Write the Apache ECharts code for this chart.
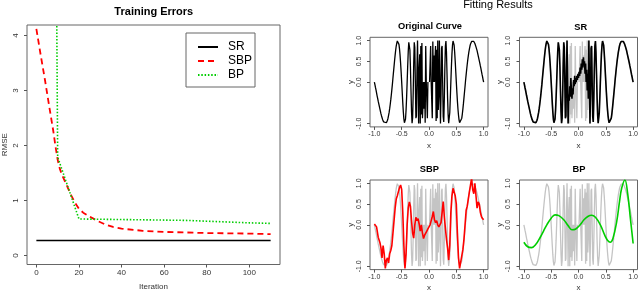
<!DOCTYPE html>
<html><head><meta charset="utf-8">
<script src="https://cdn.jsdelivr.net/npm/echarts@6/dist/echarts.min.js"></script>
<style>html,body{margin:0;padding:0;background:#fff}#c{width:640px;height:292px}</style>
</head><body><div id="c"></div>
<script>
// ---------- Training errors (left panel) ----------
const iterSR = [0, 10, 20, 30, 40, 50, 60, 70, 80, 90, 100, 110];
const rmseSR = [0.275, 0.275, 0.275, 0.275, 0.275, 0.275, 0.275, 0.275, 0.275, 0.275, 0.275, 0.275];
const iterSBP = [0, 2, 4, 6, 8, 9, 10, 11, 12, 14, 16, 18, 20, 22, 25, 28, 32, 36, 40, 50, 60, 70, 80, 90, 100, 110];
const rmseSBP = [4.12, 3.65, 3.2, 2.72, 2.25, 1.98, 1.74, 1.58, 1.47, 1.3, 1.12, 0.97, 0.85, 0.78, 0.71, 0.645, 0.57, 0.52, 0.49, 0.45, 0.43, 0.42, 0.41, 0.405, 0.4, 0.39];
const iterBP = [0, 10, 20, 30, 40, 50, 60, 70, 80, 90, 100, 110];
const rmseBP = [60, 1.79, 0.665, 0.66, 0.655, 0.65, 0.645, 0.64, 0.625, 0.61, 0.595, 0.585];
const iterTicks = [0, 20, 40, 60, 80, 100];
const rmseTicks = [0, 1, 2, 3, 4];

// ---------- Fitting results (right panels) ----------
const curveX = [-1,-0.99,-0.98,-0.97,-0.96,-0.95,-0.94,-0.93,-0.92,-0.91,-0.9,-0.89,-0.88,-0.87,-0.86,-0.85,-0.84,-0.83,-0.82,-0.81,-0.8,-0.79,-0.78,-0.77,-0.76,-0.75,-0.74,-0.73,-0.72,-0.71,-0.7,-0.69,-0.68,-0.67,-0.66,-0.65,-0.64,-0.63,-0.62,-0.61,-0.6,-0.59,-0.58,-0.57,-0.56,-0.55,-0.54,-0.53,-0.52,-0.51,-0.5,-0.49,-0.48,-0.47,-0.46,-0.45,-0.44,-0.43,-0.42,-0.41,-0.4,-0.39,-0.38,-0.37,-0.36,-0.35,-0.34,-0.33,-0.32,-0.31,-0.3,-0.29,-0.28,-0.27,-0.26,-0.25,-0.24,-0.23,-0.22,-0.21,-0.2,-0.19,-0.18,-0.17,-0.16,-0.15,-0.14,-0.13,-0.12,-0.11,-0.1,-0.09,-0.08,-0.07,-0.06,-0.05,-0.04,-0.03,-0.02,-0.01,0,0.01,0.02,0.03,0.04,0.05,0.06,0.07,0.08,0.09,0.1,0.11,0.12,0.13,0.14,0.15,0.16,0.17,0.18,0.19,0.2,0.21,0.22,0.23,0.24,0.25,0.26,0.27,0.28,0.29,0.3,0.31,0.32,0.33,0.34,0.35,0.36,0.37,0.38,0.39,0.4,0.41,0.42,0.43,0.44,0.45,0.46,0.47,0.48,0.49,0.5,0.51,0.52,0.53,0.54,0.55,0.56,0.57,0.58,0.59,0.6,0.61,0.62,0.63,0.64,0.65,0.66,0.67,0.68,0.69,0.7,0.71,0.72,0.73,0.74,0.75,0.76,0.77,0.78,0.79,0.8,0.81,0.82,0.83,0.84,0.85,0.86,0.87,0.88,0.89,0.9,0.91,0.92,0.93,0.94,0.95,0.96,0.97,0.98,0.99,1];
const originalY = [0,-0.06,-0.13,-0.19,-0.26,-0.33,-0.39,-0.46,-0.52,-0.58,-0.64,-0.7,-0.76,-0.81,-0.85,-0.9,-0.93,-0.96,-0.98,-0.99,-1,-0.99,-0.98,-0.95,-0.92,-0.87,-0.8,-0.73,-0.64,-0.54,-0.43,-0.31,-0.18,-0.05,0.1,0.24,0.38,0.52,0.65,0.77,0.87,0.94,0.99,1,0.98,0.91,0.8,0.65,0.46,0.24,0,-0.25,-0.5,-0.72,-0.89,-0.98,-0.99,-0.89,-0.68,-0.37,0,0.39,0.74,0.96,0.99,0.78,0.37,-0.19,-0.71,-0.99,-0.87,-0.32,0.43,0.96,0.83,0,-0.87,-0.82,0.28,1,0,-1,0.34,0.67,-1,0.87,-0.78,0.94,-0.87,-0.54,0,-0.64,0,-0.98,0.87,0,0,-0.87,0,0,null,0,0,0.87,0,0,-0.87,0.98,0,0.64,0,0.54,0.87,-0.94,0.78,-0.87,1,-0.67,-0.34,1,0,-1,-0.28,0.82,0.87,0,-0.83,-0.96,-0.43,0.32,0.87,0.99,0.71,0.19,-0.37,-0.78,-0.99,-0.96,-0.74,-0.39,0,0.37,0.68,0.89,0.99,0.98,0.89,0.72,0.5,0.25,0,-0.24,-0.46,-0.65,-0.8,-0.91,-0.98,-1,-0.99,-0.94,-0.87,-0.77,-0.65,-0.52,-0.38,-0.24,-0.1,0.05,0.18,0.31,0.43,0.54,0.64,0.73,0.8,0.87,0.92,0.95,0.98,0.99,1,0.99,0.98,0.96,0.93,0.9,0.85,0.81,0.76,0.7,0.64,0.58,0.52,0.46,0.39,0.33,0.26,0.19,0.13,0.06,0];
const srY = [0,-0.06,-0.13,-0.19,-0.26,-0.33,-0.39,-0.46,-0.52,-0.58,-0.64,-0.7,-0.76,-0.81,-0.85,-0.9,-0.93,-0.96,-0.98,-0.99,-1,-0.99,-0.98,-0.95,-0.92,-0.87,-0.8,-0.73,-0.64,-0.54,-0.43,-0.31,-0.18,-0.05,0.1,0.24,0.38,0.52,0.65,0.77,0.87,0.94,0.99,1,0.98,0.91,0.8,0.65,0.46,0.24,0,-0.25,-0.5,-0.72,-0.89,-0.98,-0.99,-0.89,-0.68,-0.37,0,0.39,0.74,0.96,0.99,0.78,0.37,-0.19,-0.71,-0.99,-0.87,-0.32,0.43,0.96,0.83,0,-0.87,-0.82,0.28,1,0,-1,-0.3,-0.45,-0.1,-0.35,0.1,-0.2,-0.4,-0.15,-0.3,0.05,-0.1,0.15,-0.05,0.1,0,0.15,0.05,0.2,0.1,0.25,0.15,0.35,0.2,0.45,0.3,0.55,0.35,0.6,0.4,0.5,0.2,0.45,0,0.3,-0.2,0.2,-0.4,1,0,-1,-0.28,0.82,0.87,0,-0.83,-0.96,-0.43,0.32,0.87,0.99,0.71,0.19,-0.37,-0.78,-0.99,-0.96,-0.74,-0.39,0,0.37,0.68,0.89,0.99,0.98,0.89,0.72,0.5,0.25,0,-0.24,-0.46,-0.65,-0.8,-0.91,-0.98,-1,-0.99,-0.94,-0.87,-0.77,-0.65,-0.52,-0.38,-0.24,-0.1,0.05,0.18,0.31,0.43,0.54,0.64,0.73,0.8,0.87,0.92,0.95,0.98,0.99,1,0.99,0.98,0.96,0.93,0.9,0.85,0.81,0.76,0.7,0.64,0.58,0.52,0.46,0.39,0.33,0.26,0.19,0.13,0.06,0];
const sbpX = [-1,-0.96,-0.93,-0.9,-0.88,-0.86,-0.84,-0.82,-0.8,-0.78,-0.76,-0.74,-0.72,-0.7,-0.68,-0.66,-0.64,-0.62,-0.6,-0.58,-0.56,-0.54,-0.52,-0.5,-0.48,-0.46,-0.44,-0.42,-0.4,-0.38,-0.36,-0.34,-0.32,-0.3,-0.28,-0.26,-0.24,-0.22,-0.2,-0.18,-0.16,-0.14,-0.12,-0.1,-0.08,-0.06,-0.04,-0.02,0,0.02,0.04,0.06,0.08,0.1,0.12,0.14,0.16,0.18,0.2,0.22,0.24,0.26,0.28,0.3,0.32,0.34,0.36,0.38,0.4,0.42,0.44,0.46,0.48,0.5,0.52,0.54,0.56,0.58,0.6,0.62,0.64,0.66,0.68,0.7,0.72,0.74,0.76,0.78,0.8,0.82,0.84,0.86,0.88,0.9,0.92,0.94,0.96,0.98,1];
const sbpY = [0.02,-0.05,-0.3,-0.42,-0.55,-0.8,-0.5,-0.7,-1.05,-0.85,-0.8,-0.92,-0.7,-0.62,-0.5,-0.2,0.1,0.4,0.62,0.7,0.8,0.9,0.96,0.85,0.3,-0.5,-1.05,-0.7,0,0.4,0.55,0.45,0.1,-0.2,-0.32,0,0.18,0.1,0.15,0.02,-0.15,0,-0.2,-0.33,-0.25,-0.22,-0.15,-0.1,-0.05,0,0.1,0.2,0.32,0.12,0.05,0.1,0,-0.05,-0.08,0.05,0.3,0.56,0.2,-0.08,-0.35,-0.56,-0.85,-0.5,0.3,0.7,0.88,0.85,0.7,0.5,-0.2,-0.8,-1.05,-0.9,-0.75,-0.6,-0.35,0,0.35,0.45,0.48,0.8,0.96,1.12,0.85,0.75,1,0.7,0.4,0.55,0.5,0.3,0.2,0.15,0.12];
const bpX = [-1,-0.93,-0.86,-0.78,-0.7,-0.64,-0.58,-0.5,-0.43,-0.36,-0.27,-0.19,-0.12,-0.05,0.03,0.1,0.17,0.24,0.31,0.4,0.48,0.53,0.58,0.63,0.7,0.75,0.79,0.85,0.9,0.95,1];
const bpY = [-0.42,-0.53,-0.55,-0.47,-0.3,-0.15,0,0.16,0.24,0.22,0.12,-0.02,-0.12,-0.1,0,0.12,0.2,0.23,0.18,0,-0.25,-0.37,-0.42,-0.33,0.08,0.55,0.88,1.08,0.75,0.15,-0.45];
const xTicks = [-1, -0.5, 0, 0.5, 1];
const yTicks = [-1, 0, 0.5, 1];

const FONT = 'Liberation Sans, Arial, Helvetica, sans-serif';
const BOX = '#666', TICK = '#555', LBL = '#333';
const GRAY = '#c4c4c4', RED = '#ff0000', GREEN = '#00cd00';

const pairs = (xs, ys) => xs.map((x, i) => [x, ys[i]]);

const grids = [
  {left: 27, top: 25, width: 253, height: 239.5},
  {left: 370, top: 37.3, width: 118, height: 89.6},
  {left: 519.5, top: 37.3, width: 118, height: 89.6},
  {left: 370, top: 180, width: 118, height: 89.6},
  {left: 519.5, top: 180, width: 118, height: 89.6}
].map(g => Object.assign(g, {show: true, borderColor: BOX, borderWidth: 1, backgroundColor: 'transparent', containLabel: false, outerBoundsMode: 'none'}));

function xAx(gi, min, max, ticks, fmt, name, fs, nameGap) {
  return {type: 'value', gridIndex: gi, min: min, max: max, position: 'bottom',
    axisLine: {show: false, onZero: false}, splitLine: {show: false},
    axisTick: {show: true, inside: false, customValues: ticks, length: 3, lineStyle: {color: TICK}},
    axisLabel: {customValues: ticks, formatter: fmt, fontSize: fs, margin: 4, color: LBL, fontFamily: FONT},
    name: name, nameLocation: 'middle', nameGap: nameGap,
    nameTextStyle: {fontSize: 8, color: LBL, fontFamily: FONT}};
}
function yAx(gi, min, max, ticks, fmt, name, fs, margin, nameGap) {
  return {type: 'value', gridIndex: gi, min: min, max: max, position: 'left',
    axisLine: {show: false, onZero: false}, splitLine: {show: false},
    axisTick: {show: true, inside: false, customValues: ticks, length: 3, lineStyle: {color: TICK}},
    axisLabel: {customValues: ticks, formatter: fmt, rotate: 90, fontSize: fs, margin: margin, color: LBL, fontFamily: FONT},
    name: name, nameLocation: 'middle', nameGap: nameGap,
    nameTextStyle: {fontSize: 8, color: LBL, fontFamily: FONT}};
}
const f1 = v => v.toFixed(1);
const f0 = v => String(v);

const xAxes = [xAx(0, -4.4, 114.4, iterTicks, f0, 'Iteration', 8, 18)];
const yAxes = [yAx(0, -0.162, 4.19, rmseTicks, f0, 'RMSE', 8, 7, 18)];
for (let g = 1; g <= 4; g++) {
  xAxes.push(xAx(g, -1.08, 1.08, xTicks, f1, 'x', 7, 14.5));
  yAxes.push(yAx(g, -1.08, 1.08, yTicks, f1, 'y', 7, 7.5, 15));
}

function line(gi, data, color, width, extra) {
  return Object.assign({type: 'line', xAxisIndex: gi, yAxisIndex: gi, data: data,
    symbol: 'none', showSymbol: false, animation: false, silent: true,
    lineStyle: {color: color, width: width}, itemStyle: {color: color}}, extra || {});
}

const series = [
  line(0, pairs(iterSR, rmseSR), '#000', 1.4, {name: 'SR'}),
  line(0, pairs(iterSBP, rmseSBP), RED, 1.8, {name: 'SBP', lineStyle: {color: RED, width: 1.8, type: [6, 4]}}),
  line(0, pairs(iterBP, rmseBP), GREEN, 1.6, {name: 'BP', lineStyle: {color: GREEN, width: 1.6, type: [1.5, 1.8]}}),
  line(1, pairs(curveX, originalY), '#000', 1.3),
  line(2, pairs(curveX, originalY), GRAY, 1.3),
  line(2, pairs(curveX, srY), '#000', 1.6),
  line(3, pairs(curveX, originalY), GRAY, 1.3),
  line(3, pairs(sbpX, sbpY), RED, 1.6),
  line(4, pairs(curveX, originalY), GRAY, 1.3),
  line(4, pairs(bpX, bpY), GREEN, 1.6, {smooth: 0.4})
];

function ttl(text, x, y, size, bold) {
  return {type: 'text', x: x, y: y, silent: true,
    style: {text: text, fill: '#000', textAlign: 'center', textVerticalAlign: 'middle',
      font: (bold ? 'bold ' : '') + size + 'px ' + FONT}};
}

const chart = echarts.init(document.getElementById('c'), null, {renderer: 'canvas'});
chart.setOption({
  animation: false,
  backgroundColor: '#fff',
  grid: grids,
  xAxis: xAxes,
  yAxis: yAxes,
  legend: {
    data: ['SR', 'SBP', 'BP'], orient: 'vertical', left: 186, top: 33,
    padding: [8, 3, 6, 11], itemWidth: 20, itemHeight: 10, itemGap: 2,
    borderColor: BOX, borderWidth: 1, selectedMode: false,
    itemStyle: {opacity: 0, borderWidth: 0},
    textStyle: {fontSize: 12, color: '#000', fontFamily: FONT, padding: [0, 0, 0, 5]}
  },
  graphic: [
    ttl('Training Errors', 153.8, 12.3, 11, true),
    ttl('Fitting Results', 498, 5, 11, false),
    ttl('Original Curve', 430, 26.7, 9.3, true),
    ttl('SR', 580.7, 27, 9.3, true),
    ttl('SBP', 429.3, 169, 9.3, true),
    ttl('BP', 579, 169, 9.3, true)
  ],
  series: series
});
</script></body></html>
